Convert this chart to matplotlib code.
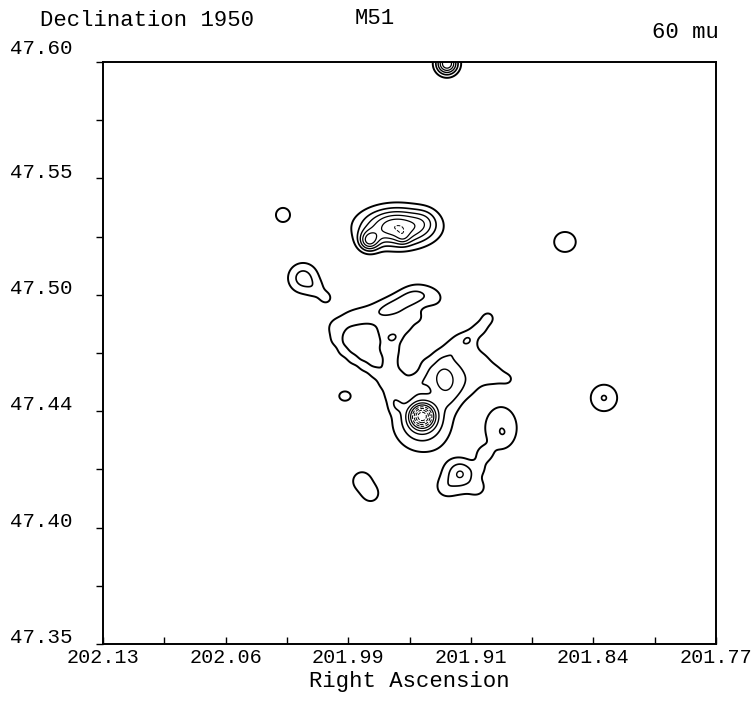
import numpy as np
import matplotlib
matplotlib.use("Agg")
import matplotlib.pyplot as plt
from matplotlib.transforms import ScaledTranslation

# ---------------- text ----------------
title_left = "Declination 1950"
title_mid = "M51"
title_right = "60 mu"
x_title = "Right Ascension"

# ---------------- axes ----------------
ra_limits = [202.13, 201.77]
dec_limits = [47.35, 47.60]
ra_major = [202.13, 202.058, 201.986, 201.914, 201.842, 201.77]
ra_major_labels = ["202.13", "202.06", "201.99", "201.91", "201.84", "201.77"]
ra_minor = [202.094, 202.022, 201.95, 201.878, 201.806]
dec_major = [47.60, 47.55, 47.50, 47.45, 47.40, 47.35]
dec_major_labels = ["47.60", "47.55", "47.50", "47.44", "47.40", "47.35"]
dec_minor = [47.575, 47.525, 47.475, 47.425, 47.375]

contour_levels = [1, 2, 3, 4, 5, 6, 7, 8, 9, 10]

# ---------------- emission components (RA, Dec, peak, sigma RA, sigma Dec) ----------------
# isolated sources
iso_ra = [201.9280, 202.0243, 201.8587, 201.8358, 202.0125, 202.0043, 201.9990, 201.9879, 201.9779, 201.9726]
iso_dec = [47.5993, 47.5343, 47.5227, 47.4557, 47.5072, 47.5021, 47.4986, 47.4565, 47.4200, 47.4144]
iso_amp = [6.0, 1.9, 1.9, 2.05, 2.43, 0.9, 1.25, 1.7, 1.6, 1.5]
iso_sra = [0.0044, 0.00364, 0.00558, 0.00646, 0.00663, 0.00411, 0.00294, 0.00323, 0.00528, 0.00411]
iso_sdec = [0.00322, 0.00267, 0.00378, 0.00473, 0.00486, 0.00301, 0.00215, 0.00193, 0.00387, 0.00301]

# companion NGC 5195
comp_ra = [201.9573, 201.9738, 201.9538, 201.9409]
comp_dec = [47.5291, 47.5231, 47.5244, 47.5317]
comp_amp = [6.0, 4.0, 1.2, 1.0]
comp_sra = [0.01409, 0.00411, 0.00294, 0.00528]
comp_sdec = [0.00559, 0.00301, 0.00215, 0.00387]

# southern clump
south_ra = [201.9203, 201.9203, 201.8962, 201.8951, 201.9062, 201.9291, 201.9098, 201.9086]
south_dec = [47.4234, 47.4204, 47.4428, 47.4406, 47.4316, 47.4170, 47.4170, 47.4256]
south_amp = [1.95, 1.25, 1.95, 0.2, 1.2, 0.8, 0.8, 0.6]
south_sra = [0.00528, 0.01057, 0.00792, 0.00176, 0.00352, 0.00411, 0.00352, 0.00352]
south_sdec = [0.00387, 0.00688, 0.00774, 0.00129, 0.00258, 0.00301, 0.00258, 0.00258]

# northern arm (upper lobe)
north_ra = [201.9896, 201.9826, 201.9755, 201.9685, 201.9626, 201.9567, 201.9509, 201.9456, 201.9391, 201.9333]
north_dec = [47.4883, 47.4905, 47.4913, 47.4922, 47.4935, 47.4956, 47.4982, 47.4999, 47.4999, 47.4982]
north_amp = [0.8, 0.8, 0.8, 0.9, 1.22, 1.22, 1.22, 1.15, 0.8, 0.7]
north_sra = [0.00528] * 10
north_sdec = [0.00387] * 10

# inner body between the arms
body_ra = [201.9526, 201.9585, 201.9603, 201.9614, 201.9450, 201.9485, 201.9409, 201.9609,
           201.9656, 201.9656, 201.9567]
body_dec = [47.4870, 47.4827, 47.4763, 47.4703, 47.4900, 47.4612, 47.4643, 47.4814,
            47.4840, 47.4771, 47.4651]
body_amp = [1.3, 1.3, 1.3, 1.3, 0.9, 1.0, 0.8, 0.4, 0.9, 0.7, 1.0]
body_sra = [0.00411, 0.00411, 0.00411, 0.00411, 0.00352, 0.0047, 0.0047, 0.00352,
            0.00411, 0.00352, 0.00352]
body_sdec = [0.00301, 0.00301, 0.00301, 0.00301, 0.00258, 0.00344, 0.00344, 0.00129,
             0.00301, 0.00258, 0.00258]

# western arm ring
west_ra = [201.9937, 201.9932, 201.9890, 201.9832, 201.9767, 201.9703, 201.9650, 201.9609, 201.9579]
west_dec = [47.4857, 47.4806, 47.4759, 47.4724, 47.4694, 47.4664, 47.4621, 47.4574, 47.4527]
west_amp = [1.1] * 9
west_sra = [0.00352] * 9
west_sdec = [0.00258] * 9

# eastern arm
east_ra = [201.9039, 201.9080, 201.9215, 201.9139, 201.9291, 201.9215, 201.9139, 201.9062,
           201.9368, 201.9291, 201.9215, 201.9139, 201.9062, 201.8986,
           201.9215, 201.9139, 201.9062, 201.8986, 201.8916,
           201.9215, 201.9139, 201.9262, 201.9156,
           201.9133, 201.9197, 201.9262, 201.9338, 201.9409]
east_dec = [47.4900, 47.4857, 47.4793, 47.4793, 47.4737, 47.4741, 47.4741, 47.4733,
            47.4685, 47.4685, 47.4690, 47.4690, 47.4685, 47.4677,
            47.4638, 47.4638, 47.4638, 47.4638, 47.4638,
            47.4582, 47.4591, 47.4539, 47.4806,
            47.4836, 47.4806, 47.4771, 47.4737, 47.4707]
east_amp = [1.3, 1.1, 0.6, 0.6, 0.6, 0.6, 0.6, 0.6,
            0.6, 0.6, 0.6, 0.6, 0.6, 0.6,
            0.6, 0.6, 0.6, 0.6, 0.8,
            0.6, 0.45, 0.5, 0.5,
            0.7, 0.6, 0.6, 0.6, 0.5]
east_sra = ([0.00352, 0.00352] + [0.0047] * 16 + [0.00352, 0.0047, 0.0047, 0.0047, 0.00176]
            + [0.00411, 0.00411, 0.00411, 0.00411, 0.00352])
east_sdec = ([0.00258, 0.00258] + [0.00344] * 16 + [0.00258, 0.00344, 0.00344, 0.00344, 0.00129]
             + [0.00301, 0.00301, 0.00301, 0.00301, 0.00258])

# nucleus and knot north-east of it
nuc_ra = [201.9426, 201.9426, 201.9291, 201.9297]
nuc_dec = [47.4454, 47.4479, 47.4612, 47.4634]
nuc_amp = [3.0, 7.0, 1.2, 2.0]
nuc_sra = [0.01174, 0.0047, 0.00939, 0.00411]
nuc_sdec = [0.0086, 0.00344, 0.00688, 0.00387]

groups = [
    (iso_ra, iso_dec, iso_amp, iso_sra, iso_sdec),
    (comp_ra, comp_dec, comp_amp, comp_sra, comp_sdec),
    (south_ra, south_dec, south_amp, south_sra, south_sdec),
    (north_ra, north_dec, north_amp, north_sra, north_sdec),
    (body_ra, body_dec, body_amp, body_sra, body_sdec),
    (west_ra, west_dec, west_amp, west_sra, west_sdec),
    (east_ra, east_dec, east_amp, east_sra, east_sdec),
    (nuc_ra, nuc_dec, nuc_amp, nuc_sra, nuc_sdec),
]

ra_grid = np.linspace(ra_limits[0], ra_limits[1], 800)
dec_grid = np.linspace(dec_limits[0], dec_limits[1], 800)
RA, DEC = np.meshgrid(ra_grid, dec_grid)
flux = np.zeros_like(RA)
for g_ra, g_dec, g_amp, g_sra, g_sdec in groups:
    for r0, d0, a, sr, sd in zip(g_ra, g_dec, g_amp, g_sra, g_sdec):
        flux += a * np.exp(-((RA - r0) ** 2 / (2 * sr ** 2) + (DEC - d0) ** 2 / (2 * sd ** 2)))

# ---------------- figure ----------------
plt.rcParams["font.family"] = ["Liberation Mono", "DejaVu Sans Mono"]
fig = plt.figure(figsize=(7.53, 7.02), dpi=100)
ax = fig.add_axes([103 / 753, 1 - 644 / 702, 613 / 753, 582 / 702])

widths = [1.4, 1.2, 1.0, 0.9, 0.9, 0.7, 0.7, 0.7, 0.7, 0.7]
styles = ["solid", "solid", "solid", "solid", "solid", "dashed", "dashed", "dashed", "dashed", "dashed"]
ax.contour(RA, DEC, flux, levels=contour_levels, colors="black",
           linewidths=widths, linestyles=styles)

ax.set_xlim(ra_limits)
ax.set_ylim(dec_limits)
ax.set_xticks(ra_major)
ax.set_xticklabels(ra_major_labels)
ax.set_xticks(ra_minor, minor=True)
ax.set_yticks(dec_major)
ax.set_yticklabels(dec_major_labels)
ax.set_yticks(dec_minor, minor=True)

ax.tick_params(axis="x", which="both", direction="in", length=5, width=1.0,
               labelsize=14.5, pad=3)
ax.tick_params(axis="y", which="both", direction="out", length=5, width=1.0,
               labelsize=15, pad=17)
for i, lab in enumerate(ax.get_yticklabels()):
    shift = 11 if i == 0 else 6
    lab.set_transform(lab.get_transform() + ScaledTranslation(0, shift / 72, fig.dpi_scale_trans))

for sp in ax.spines.values():
    sp.set_linewidth(1.4)

fig.text(40 / 753, 1 - 20 / 702, title_left, fontsize=16, ha="left", va="center")
fig.text(355 / 753, 1 - 19 / 702, title_mid, fontsize=16, ha="left", va="center")
fig.text(652 / 753, 1 - 33 / 702, title_right, fontsize=16, ha="left", va="center")
fig.text(409 / 753, 1 - 682 / 702, x_title, fontsize=16, ha="center", va="center")

fig.savefig("out.png", dpi=100, facecolor="white")
